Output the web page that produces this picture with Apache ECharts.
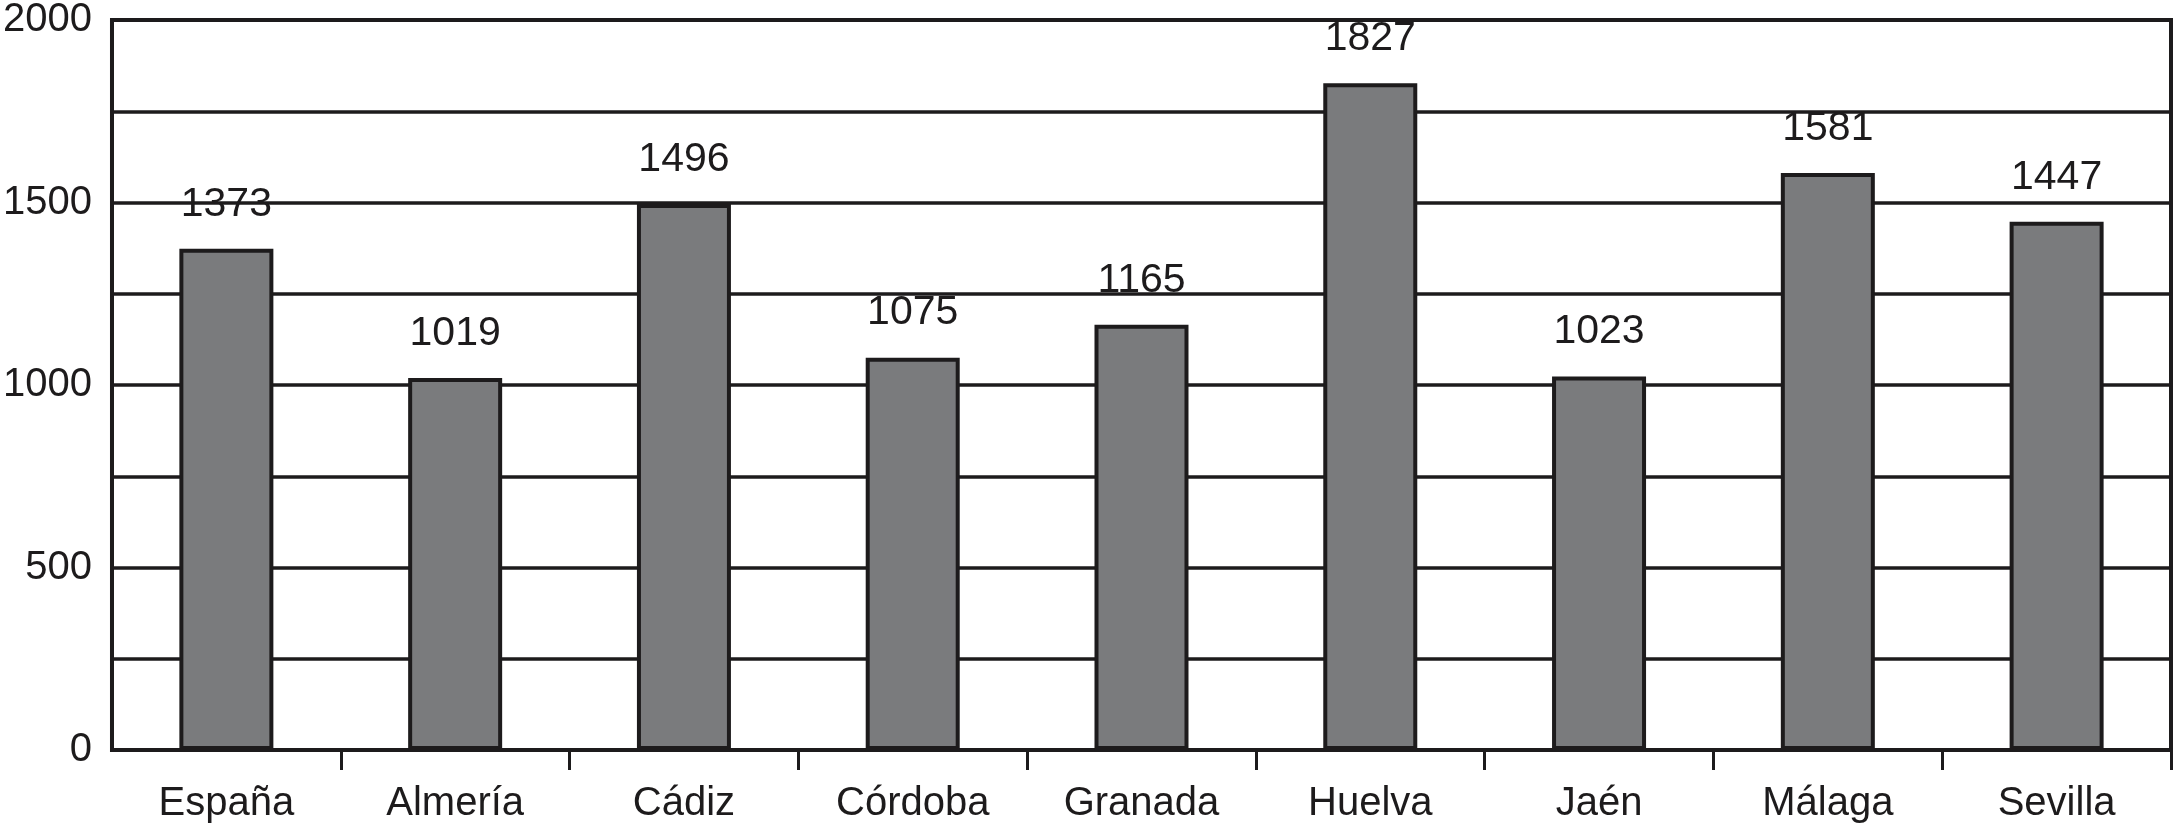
<!DOCTYPE html>
<html><head><meta charset="utf-8">
<script src="https://cdn.jsdelivr.net/npm/echarts@6/dist/echarts.min.js"></script>
<style>html,body{margin:0;padding:0;background:#fff}#c{width:2173px;height:825px}</style>
</head><body><div id="c"></div>
<script>
var categories = ['España','Almería','Cádiz','Córdoba','Granada','Huelva','Jaén','Málaga','Sevilla'];
var values = [1373,1019,1496,1075,1165,1827,1023,1581,1447];
var yMin = 0, yMax = 2000, yStep = 250, yLabelStep = 500;

var chart = echarts.init(document.getElementById('c'), null, {renderer:'canvas'});
var font = 'Liberation Sans, Arial, Helvetica, sans-serif';
var ink = '#1d1b1c';
chart.setOption({
  animation:false,
  grid:{left:111, right:2, top:13, bottom:75, show:true, borderColor:ink, borderWidth:4, backgroundColor:'transparent'},
  xAxis:{type:'category', data:categories, boundaryGap:true,
    axisLine:{lineStyle:{color:ink, width:4}},
    axisTick:{show:true, length:20, interval:function(i){return i > 0;}, lineStyle:{color:ink, width:3}},
    axisLabel:{color:ink, fontSize:40, fontFamily:font, margin:34, interval:0}},
  yAxis:{type:'value', min:yMin, max:yMax, interval:yStep,
    axisLine:{show:true, lineStyle:{color:ink, width:4}},
    axisTick:{show:false},
    splitLine:{lineStyle:{color:ink, width:3.5}},
    axisLabel:{color:ink, fontSize:40, fontFamily:font, margin:20,
      formatter:function(v){return v % yLabelStep === 0 ? String(v) : '';}}},
  series:[{type:'bar', data:values, barWidth:94,
    itemStyle:{color:'#7a7b7d', borderColor:ink, borderWidth:4},
    label:{show:true, position:'top', distance:24, color:ink, fontSize:41, fontFamily:font}}]
});
</script></body></html>
